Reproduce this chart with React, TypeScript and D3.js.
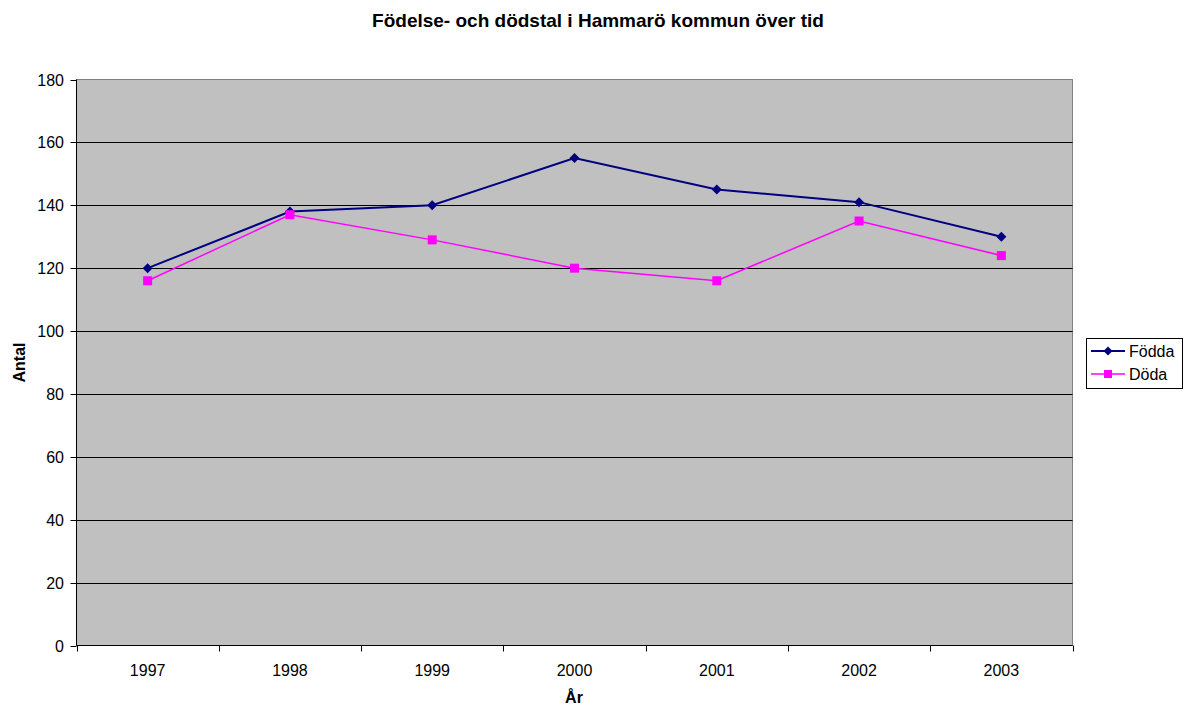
import React from "react";
import * as d3 from "d3";

const years = ["1997", "1998", "1999", "2000", "2001", "2002", "2003"];
const fodda = [120, 138, 140, 155, 145, 141, 130];
const doda = [116, 137, 129, 120, 116, 135, 124];
const yTicks = [0, 20, 40, 60, 80, 100, 120, 140, 160, 180];

const W = 1184, H = 706;
const L = 76.5, R = 1072.5, T = 79.5, B = 645.5;
const FONT = "Liberation Sans, Arial, sans-serif";

export default function App() {
  const x = d3.scaleBand<string>().domain(years).range([L, R]);
  const y = d3.scaleLinear().domain([0, 180]).range([B, T]);
  const line = d3
    .line<number>()
    .x((_, i) => (x(years[i]) as number) + x.bandwidth() / 2)
    .y((d) => y(d));
  const cx = (i: number) => (x(years[i]) as number) + x.bandwidth() / 2;
  const bounds = years.map((yr) => x(yr) as number).concat([R]);

  return (
    <svg width={W} height={H} style={{ position: "absolute", left: 0, top: 0, background: "#fff" }}>
      <text x={598} y={27} textAnchor="middle" fontFamily={FONT} fontSize={19} fontWeight="bold">
        Födelse- och dödstal i Hammarö kommun över tid
      </text>
      <rect x={L} y={T} width={R - L} height={B - T} fill="#C0C0C0" stroke="#808080" strokeWidth={1} />
      {yTicks.map((t) =>
        t > 0 && t < 180 ? (
          <line key={"g" + t} x1={L} x2={R} y1={Math.round(y(t)) + 0.5} y2={Math.round(y(t)) + 0.5} stroke="#000" strokeWidth={1} />
        ) : null
      )}
      <line x1={L} x2={L} y1={T} y2={B} stroke="#000" />
      <line x1={L} x2={R} y1={B} y2={B} stroke="#000" />
      {yTicks.map((t) => (
        <g key={"y" + t}>
          <line x1={L - 6} x2={L} y1={Math.round(y(t)) + 0.5} y2={Math.round(y(t)) + 0.5} stroke="#000" />
          <text x={64} y={y(t) + 6} textAnchor="end" fontFamily={FONT} fontSize={16}>
            {t}
          </text>
        </g>
      ))}
      {bounds.map((b, i) => (
        <line key={"xt" + i} x1={Math.round(b) + 0.5} x2={Math.round(b) + 0.5} y1={B} y2={B + 6} stroke="#000" />
      ))}
      {years.map((yr, i) => (
        <text key={"xl" + yr} x={cx(i)} y={676} textAnchor="middle" fontFamily={FONT} fontSize={16}>
          {yr}
        </text>
      ))}
      <text x={574} y={703} textAnchor="middle" fontFamily={FONT} fontSize={16} fontWeight="bold">
        År
      </text>
      <text
        transform={`translate(25, ${(T + B) / 2}) rotate(-90)`}
        textAnchor="middle"
        fontFamily={FONT}
        fontSize={16}
        fontWeight="bold"
      >
        Antal
      </text>
      <path d={line(fodda) as string} fill="none" stroke="#000080" strokeWidth={2} />
      <path d={line(doda) as string} fill="none" stroke="#FF00FF" strokeWidth={1.5} />
      {fodda.map((v, i) => (
        <path key={"fm" + i} d={`M${cx(i)},${y(v) - 5}L${cx(i) + 5},${y(v)}L${cx(i)},${y(v) + 5}L${cx(i) - 5},${y(v)}Z`} fill="#000080" />
      ))}
      {doda.map((v, i) => (
        <rect key={"dm" + i} x={cx(i) - 4.5} y={y(v) - 4.5} width={9} height={9} fill="#FF00FF" />
      ))}
      <rect x={1086.5} y={338.5} width={96} height={50} fill="#fff" stroke="#000" />
      <line x1={1091} x2={1125} y1={351} y2={351} stroke="#000080" strokeWidth={2} />
      <path d="M1108,346.5L1112.5,351L1108,355.5L1103.5,351Z" fill="#000080" />
      <text x={1129} y={357} fontFamily={FONT} fontSize={16}>Födda</text>
      <line x1={1091} x2={1125} y1={374} y2={374} stroke="#FF00FF" strokeWidth={1.5} />
      <rect x={1104} y={370} width={8} height={8} fill="#FF00FF" />
      <text x={1129} y={380} fontFamily={FONT} fontSize={16}>Döda</text>
    </svg>
  );
}
